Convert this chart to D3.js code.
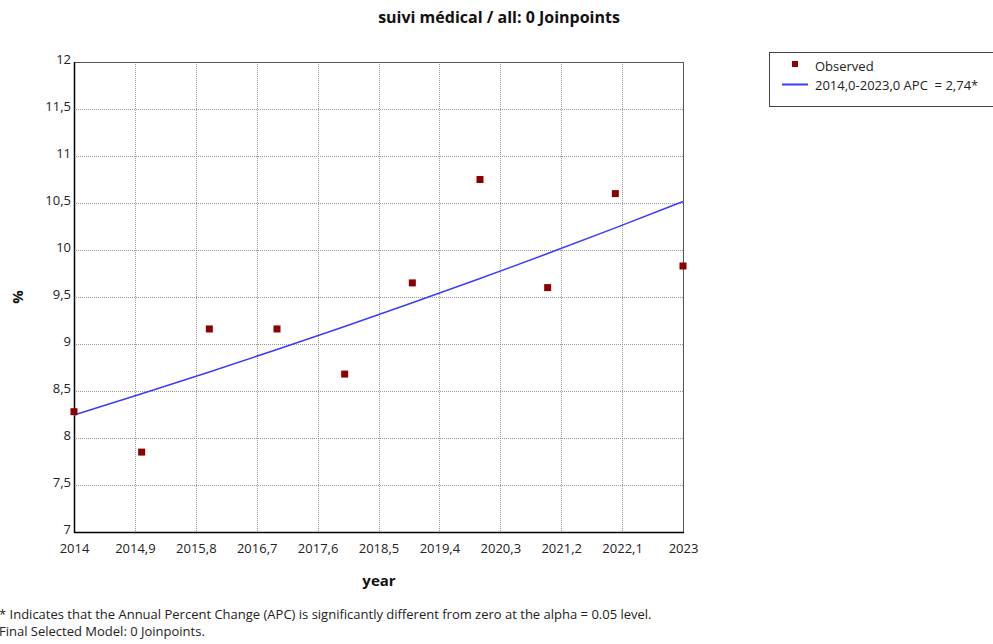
<!DOCTYPE html>
<html><head><meta charset="utf-8">
<script src="https://cdn.jsdelivr.net/npm/d3@7"></script>
<style>
body{margin:0;background:#fff;}
svg{display:block;font-family:"Open Sans","Noto Sans",sans-serif;}
</style></head>
<body>
<script>
const years = [2014,2015,2016,2017,2018,2019,2020,2021,2022,2023];
const observed = [8.28,7.85,9.16,9.16,8.68,9.65,10.75,9.60,10.60,9.83];
const fitted = [8.245,8.471,8.703,8.941,9.186,9.438,9.697,9.962,10.235,10.516];
const xTicks = [2014,2014.9,2015.8,2016.7,2017.6,2018.5,2019.4,2020.3,2021.2,2022.1,2023];
const yTicks = [7,7.5,8,8.5,9,9.5,10,10.5,11,11.5,12];
const titleText = "suivi médical / all: 0 Joinpoints";
const legendLabels = ["Observed","2014,0-2023,0 APC  = 2,74*"];
const footnotes = ["* Indicates that the Annual Percent Change (APC) is significantly different from zero at the alpha = 0.05 level.","Final Selected Model: 0 Joinpoints."];

const W=993,H=644;
const m={l:74,r:683,t:62,b:532};
const fmt = v => String(+v.toFixed(1)).replace(".",",");
const svg=d3.select("body").append("svg").attr("width",W).attr("height",H);
const x=d3.scaleLinear().domain([2014,2023]).range([m.l,m.r]);
const y=d3.scaleLinear().domain([7,12]).range([m.b,m.t]);

// grid
const g=svg.append("g");
g.selectAll(".vg").data(xTicks.slice(1,-1)).join("line")
 .attr("x1",d=>Math.round(x(d))+0.5).attr("x2",d=>Math.round(x(d))+0.5)
 .attr("y1",m.t).attr("y2",m.b).attr("stroke","#999").attr("stroke-dasharray","1,1");
g.selectAll(".hg").data(yTicks.slice(1,-1)).join("line")
 .attr("y1",d=>Math.round(y(d))+0.5).attr("y2",d=>Math.round(y(d))+0.5)
 .attr("x1",m.l).attr("x2",m.r).attr("stroke","#999").attr("stroke-dasharray","1,1");

// frame
svg.append("rect").attr("x",m.l+0.5).attr("y",m.t+0.5).attr("width",m.r-m.l).attr("height",m.b-m.t)
 .attr("fill","none").attr("stroke","#555").attr("stroke-width",1);
svg.append("line").attr("x1",m.l+0.5).attr("x2",m.l+0.5).attr("y1",m.t).attr("y2",m.b+1).attr("stroke","#000").attr("stroke-width",1.5);
svg.append("line").attr("x1",m.l).attr("x2",m.r+1).attr("y1",m.b+0.5).attr("y2",m.b+0.5).attr("stroke","#000").attr("stroke-width",1.5);

// axes labels via d3 axes
const xa=svg.append("g").attr("transform",`translate(0,${m.b})`)
 .call(d3.axisBottom(x).tickValues(xTicks).tickFormat(fmt).tickSize(0).tickPadding(12));
xa.select(".domain").remove();
xa.selectAll("text").attr("font-size",13).attr("fill","#222").attr("font-family","Open Sans, Noto Sans, sans-serif");
const ya=svg.append("g").attr("transform",`translate(${m.l},0)`)
 .call(d3.axisLeft(y).tickValues(yTicks).tickFormat(fmt).tickSize(0).tickPadding(3));
ya.select(".domain").remove();
ya.selectAll("text").attr("font-size",13).attr("fill","#222").attr("font-family","Open Sans, Noto Sans, sans-serif").attr("dy","0.1em");

// fitted line
svg.append("path").datum(years.map((d,i)=>[d,fitted[i]]))
 .attr("d",d3.line().x(d=>x(d[0])).y(d=>y(d[1])))
 .attr("fill","none").attr("stroke","#3b3bff").attr("stroke-width",1.5);
// points
svg.selectAll(".pt").data(years.map((d,i)=>[d,observed[i]])).join("rect")
 .attr("x",d=>x(d[0])-3.5).attr("y",d=>y(d[1])-3.5).attr("width",7).attr("height",7)
 .attr("fill","#8b0000");

// title
svg.append("text").attr("x",499).attr("y",23).attr("text-anchor","middle")
 .attr("font-weight","bold").attr("font-size",16).attr("fill","#111").text(titleText);
svg.append("text").attr("x",379).attr("y",586).attr("text-anchor","middle")
 .attr("font-weight","bold").attr("font-size",15).attr("fill","#111").text("year");
svg.append("text").attr("transform","translate(23,297) rotate(-90)").attr("text-anchor","middle")
 .attr("font-weight","bold").attr("font-size",15).attr("fill","#111").text("%");

// legend
const lg=svg.append("g");
lg.append("rect").attr("x",769.5).attr("y",52.5).attr("width",240).attr("height",54)
 .attr("fill","none").attr("stroke","#444");
lg.append("rect").attr("x",792).attr("y",61).attr("width",6).attr("height",6).attr("fill","#8b0000");
lg.append("line").attr("x1",782).attr("x2",808).attr("y1",84.5).attr("y2",84.5).attr("stroke","#3b3bff").attr("stroke-width",2);
lg.selectAll(".lt").data(legendLabels).join("text").attr("x",815).attr("y",(d,i)=>71+i*19)
 .attr("font-size",13).attr("fill","#222").attr("xml:space","preserve").style("white-space","pre").text(d=>d);

// footnotes
svg.selectAll(".fn").data(footnotes).join("text").attr("x",-1).attr("y",(d,i)=>619+i*17)
 .attr("font-size",13).attr("fill","#222").text(d=>d);
</script>
</body></html>
